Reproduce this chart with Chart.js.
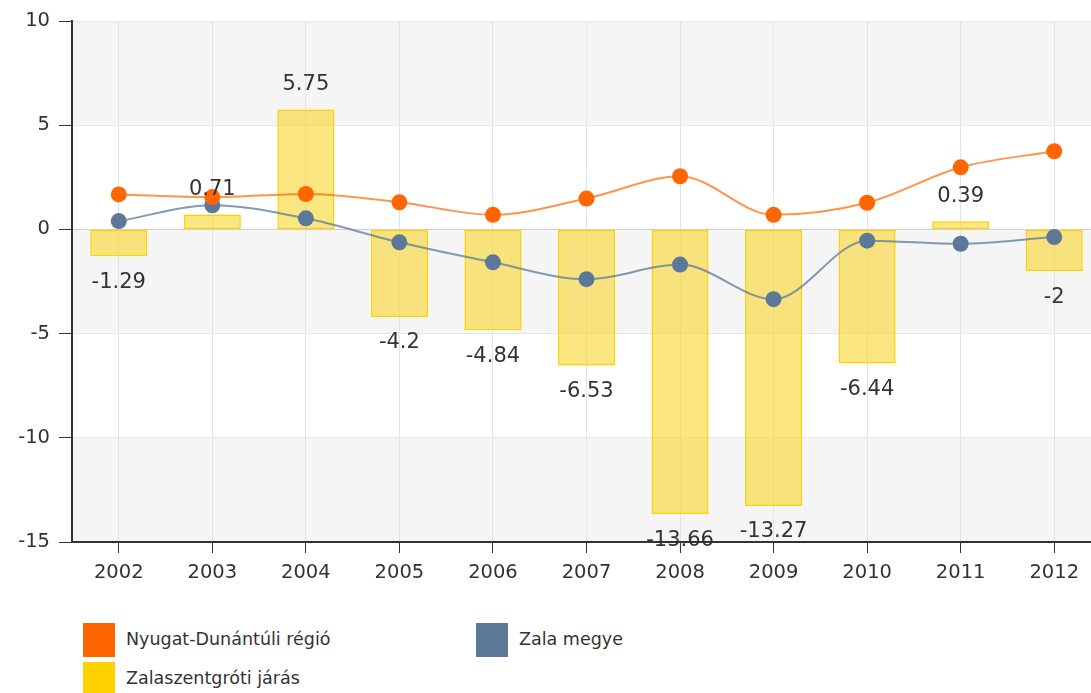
<!DOCTYPE html>
<html>
<head>
<meta charset="utf-8">
<script src="https://cdn.jsdelivr.net/npm/chart.js@4/dist/chart.umd.min.js"></script>
<style>
  html, body { margin: 0; padding: 0; background: #fff; overflow: hidden; }
  #wrap { position: relative; width: 1109px; height: 600px; }
  .legend { position: absolute; font-family: "DejaVu Sans", Verdana, sans-serif; font-size: 17.5px; color: #333; }
  .legend .item { position: absolute; white-space: nowrap; }
  .legend .box { position: absolute; width: 32px; height: 34px; }
  .legend .label { position: absolute; top: 6px; }
</style>
</head>
<body>
<div id="wrap"><canvas id="chart" width="1109" height="600"></canvas></div>
<div class="legend" id="legend"></div>
<script>
const years = ["2002", "2003", "2004", "2005", "2006", "2007", "2008", "2009", "2010", "2011", "2012"];
const regionValues = [1.68, 1.55, 1.7, 1.3, 0.7, 1.48, 2.55, 0.7, 1.28, 2.98, 3.75];
const countyValues = [0.4, 1.16, 0.53, -0.62, -1.58, -2.39, -1.69, -3.35, -0.54, -0.69, -0.37];
const districtValues = [-1.29, 0.71, 5.75, -4.2, -4.84, -6.53, -13.66, -13.27, -6.44, 0.39, -2];
const seriesNames = ["Nyugat-Dunántúli régió", "Zala megye", "Zalaszentgróti járás"];
const seriesColors = ["#ff6600", "#5b7899", "#ffd200"];

const fontFamily = '"DejaVu Sans", Verdana, sans-serif';

// alternating grey/white bands behind the plot
const bandPlugin = {
  id: "bands",
  beforeDraw(chart) {
    const { ctx, chartArea } = chart;
    const y = chart.scales.y;
    const ticks = y.ticks.map(t => t.value).sort((a, b) => b - a);
    ctx.save();
    for (let i = 0; i < ticks.length - 1; i++) {
      ctx.fillStyle = i % 2 === 0 ? "#f5f5f5" : "#ffffff";
      const top = y.getPixelForValue(ticks[i]);
      const bottom = y.getPixelForValue(ticks[i + 1]);
      ctx.fillRect(chartArea.left, top, chartArea.right - chartArea.left, bottom - top);
    }
    ctx.restore();
  }
};

// value labels above / below the bars
const barLabelPlugin = {
  id: "barLabels",
  afterDatasetsDraw(chart) {
    const { ctx } = chart;
    const meta = chart.getDatasetMeta(2);
    ctx.save();
    ctx.font = "21px " + fontFamily;
    ctx.fillStyle = "#333";
    ctx.textAlign = "center";
    ctx.textBaseline = "middle";
    meta.data.forEach((bar, i) => {
      const v = districtValues[i];
      const y = v >= 0 ? bar.y - 25 : bar.y + 26;
      ctx.fillText(String(v), bar.x, y);
    });
    ctx.restore();
  }
};

new Chart(document.getElementById("chart"), {
  type: "bar",
  data: {
    labels: years,
    datasets: [
      {
        type: "line",
        label: seriesNames[0],
        data: regionValues,
        borderColor: "rgba(255, 102, 0, 0.7)",
        backgroundColor: seriesColors[0],
        borderWidth: 2,
        pointRadius: 8,
        pointHoverRadius: 8,
        pointBorderWidth: 0,
        pointBackgroundColor: seriesColors[0],
        tension: 0.4,
        cubicInterpolationMode: "monotone",
        order: 1
      },
      {
        type: "line",
        label: seriesNames[1],
        data: countyValues,
        borderColor: "rgba(91, 120, 153, 0.75)",
        backgroundColor: seriesColors[1],
        borderWidth: 2,
        pointRadius: 8,
        pointHoverRadius: 8,
        pointBorderWidth: 0,
        pointBackgroundColor: seriesColors[1],
        tension: 0.4,
        cubicInterpolationMode: "monotone",
        order: 2
      },
      {
        label: seriesNames[2],
        data: districtValues,
        backgroundColor: "rgba(248, 214, 52, 0.62)",
        borderColor: seriesColors[2],
        borderWidth: 1.5,
        borderSkipped: false,
        barPercentage: 0.61,
        categoryPercentage: 1,
        order: 3
      }
    ]
  },
  options: {
    responsive: false,
    animation: false,
    layout: { padding: { top: 21, right: 0, left: 0, bottom: 0 } },
    plugins: {
      legend: { display: false },
      tooltip: { enabled: false }
    },
    scales: {
      x: {
        offset: true,
        grid: {
          offset: false,
          color: "#e3e3e3",
          tickColor: "#333",
          tickLength: 11,
          drawTicks: true
        },
        border: { color: "#333", width: 2 },
        ticks: {
          color: "#333",
          font: { family: fontFamily, size: 19.5 },
          padding: 8
        },
        afterFit(scale) { scale.height = 58; }
      },
      y: {
        min: -15,
        max: 10,
        ticks: {
          stepSize: 5,
          color: "#333",
          font: { family: fontFamily, size: 19.5 },
          padding: 9
        },
        grid: {
          color: ctx => ctx.tick && ctx.tick.value === 0 ? "#cfcfcf" : "#e6e6e6",
          tickColor: "#333",
          tickLength: 13
        },
        border: { color: "#333", width: 2 },
        afterFit(scale) { scale.width = 72; }
      }
    }
  },
  plugins: [bandPlugin, barLabelPlugin]
});

// HTML legend below the chart
const legendPos = [[83, 623], [476, 623], [83, 662]];
const legend = document.getElementById("legend");
seriesNames.forEach((name, i) => {
  const item = document.createElement("div");
  item.className = "item";
  item.style.left = legendPos[i][0] + "px";
  item.style.top = legendPos[i][1] + "px";
  item.innerHTML = '<div class="box" style="background:' + seriesColors[i] + '"></div>' +
    '<div class="label" style="left:43px">' + name + '</div>';
  legend.appendChild(item);
});
legend.style.left = "0px";
legend.style.top = "0px";
</script>
</body>
</html>
